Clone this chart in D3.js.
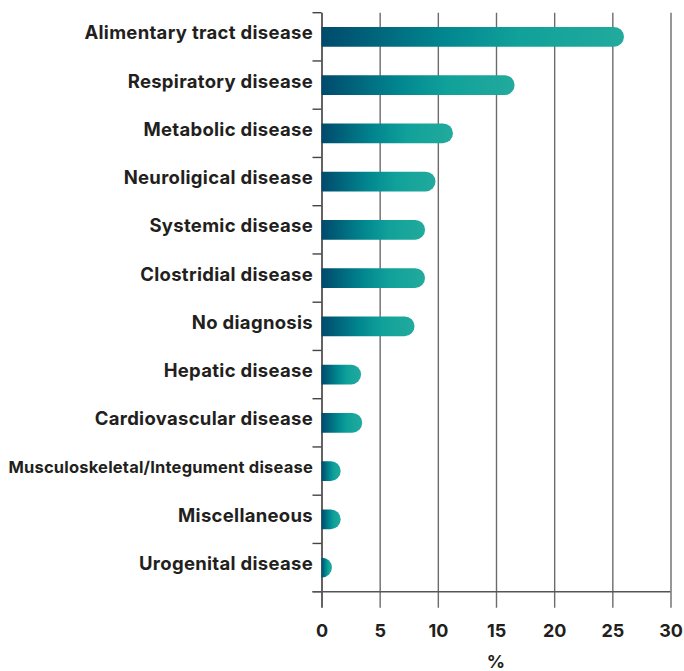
<!DOCTYPE html>
<html>
<head>
<meta charset="utf-8">
<script src="https://cdn.jsdelivr.net/npm/d3@7"></script>
<style>
  body { margin: 0; background: #fff; }
  text { font-family: Inter, "Noto Sans", sans-serif; font-weight: 700; fill: #231f20; }
</style>
</head>
<body>
<svg width="684" height="671"></svg>
<script>
const categories = [
  "Alimentary tract disease",
  "Respiratory disease",
  "Metabolic disease",
  "Neuroligical disease",
  "Systemic disease",
  "Clostridial disease",
  "No diagnosis",
  "Hepatic disease",
  "Cardiovascular disease",
  "Musculoskeletal/Integument disease",
  "Miscellaneous",
  "Urogenital disease",
];
const values = [26, 16.6, 11.3, 9.8, 8.9, 8.9, 8.0, 3.4, 3.5, 1.65, 1.65, 0.9];
const xTicks = [0, 5, 10, 15, 20, 25, 30];

const plotLeft = 321.5, plotRight = 670.5, plotTop = 12.7, plotBottom = 591.7;

const svg = d3.select("svg");

const x = d3.scaleLinear().domain([0, 30]).range([plotLeft, plotRight]);
const y = d3.scaleBand().domain(categories).range([plotTop, plotBottom])
  .paddingInner(0.59).paddingOuter(0.295);

const defs = svg.append("defs");
categories.forEach((c, i) => {
  const g = defs.append("linearGradient").attr("id", "grad" + i);
  g.append("stop").attr("offset", "0%").attr("stop-color", "#004a6c");
  g.append("stop").attr("offset", "40%").attr("stop-color", "#01868f");
  g.append("stop").attr("offset", "65%").attr("stop-color", "#10a19a");
  g.append("stop").attr("offset", "100%").attr("stop-color", "#22aa9d");
});

// grid lines + bottom tick labels
const xAxis = svg.append("g")
  .attr("transform", `translate(0,${plotBottom + 16})`)
  .call(d3.axisBottom(x).tickValues(xTicks).tickSize(-(plotBottom + 16 - plotTop)).tickPadding(14))
  .call(g => g.select(".domain").remove());
xAxis.selectAll(".tick line").attr("stroke", "#6b6b6b").attr("stroke-width", 1.4);
xAxis.selectAll(".tick text")
  .attr("font-size", 18).attr("fill", "#231f20")
  .attr("font-family", "Inter, sans-serif").attr("font-weight", 700)
  .attr("y", 23).attr("dy", "0.35em");
xAxis.selectAll(".tick").filter(d => d === 0).select("line").attr("stroke", "#231f20");

// band boundary ticks on the left
const step = y.step(), offset = (step - y.bandwidth()) / 2;
const bounds = categories.map(c => y(c) - offset).concat([plotBottom]);
svg.append("g").selectAll("line")
  .data(bounds)
  .join("line")
  .attr("x1", plotLeft - 9).attr("x2", plotLeft)
  .attr("y1", d => d).attr("y2", d => d)
  .attr("stroke", "#444").attr("stroke-width", 1.4);

// bottom axis line
svg.append("line")
  .attr("x1", plotLeft - 9).attr("x2", plotRight)
  .attr("y1", plotBottom).attr("y2", plotBottom)
  .attr("stroke", "#555").attr("stroke-width", 1.4);

// bars: square left, rounded right end
function barPath(v, c) {
  const x0 = x(0), x1 = x(v), y0 = y(c), h = y.bandwidth();
  const r = Math.min(h / 2, x1 - x0);
  return `M${x0},${y0} H${x1 - r} A${r},${h / 2} 0 0 1 ${x1 - r},${y0 + h} H${x0} Z`;
}

svg.append("g").selectAll("path")
  .data(categories)
  .join("path")
  .attr("d", (c, i) => barPath(values[i], c))
  .attr("fill", (c, i) => `url(#grad${i})`);

// category labels (the long one is set smaller)
svg.append("g").selectAll("text")
  .data(categories)
  .join("text")
  .attr("x", 313)
  .attr("y", c => y(c) + y.bandwidth() / 2 - 4)
  .attr("dy", "0.35em")
  .attr("text-anchor", "end")
  .attr("font-size", c => c.length > 30 ? 16.5 : 18.5)
  .attr("letter-spacing", c => c.length > 30 ? 0.2 : 0.3)
  .text(c => c);

// axis title
svg.append("text")
  .attr("x", x(15))
  .attr("y", 662)
  .attr("dy", "0.35em")
  .attr("text-anchor", "middle")
  .attr("font-size", 18)
  .text("%");
</script>
</body>
</html>
